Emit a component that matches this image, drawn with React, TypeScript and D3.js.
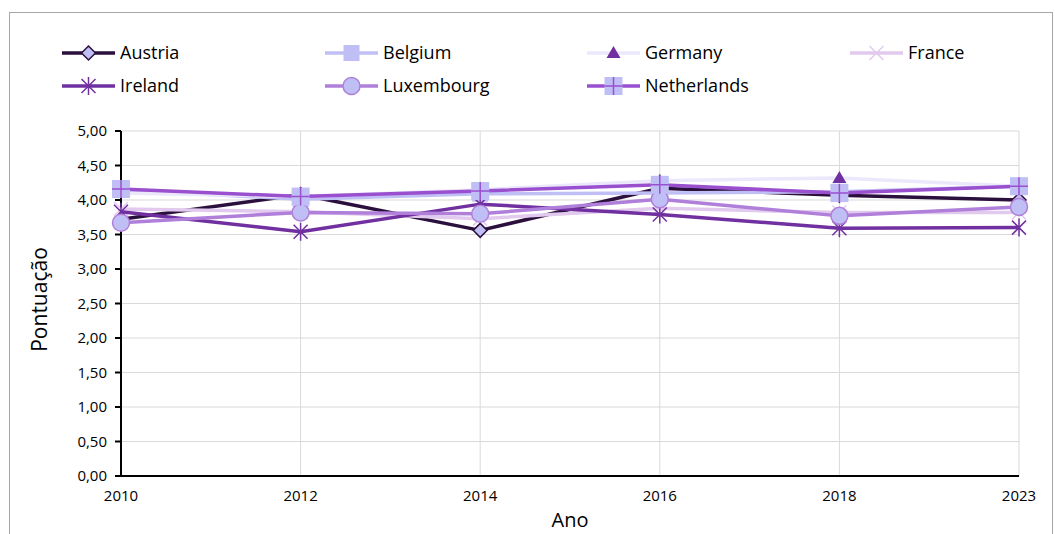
import React from "react";
import * as d3 from "d3";

const years = ["2010", "2012", "2014", "2016", "2018", "2023"];
const austria = [3.72, 4.08, 3.56, 4.17, 4.07, 4.0];
const belgium = [4.15, 4.01, 4.09, 4.1, 4.12, 4.2];
const germany = [4.1, 4.05, 4.15, 4.28, 4.32, 4.2];
const france = [3.87, 3.83, 3.73, 3.88, 3.82, 3.82];
const ireland = [3.83, 3.54, 3.94, 3.79, 3.59, 3.6];
const luxembourg = [3.67, 3.82, 3.8, 4.01, 3.77, 3.9];
const netherlands = [4.16, 4.05, 4.13, 4.22, 4.1, 4.2];
const yTicks = [0, 0.5, 1, 1.5, 2, 2.5, 3, 3.5, 4, 4.5, 5];

type Marker = "diamond" | "square" | "triangle" | "x" | "asterisk" | "circle" | "plusSquare";

const series: { name: string; values: number[]; line: string; marker: Marker; fill: string; stroke: string }[] = [
  { name: "Austria", values: austria, line: "#2b0f3c", marker: "diamond", fill: "#c0bff5", stroke: "#2b0f3c" },
  { name: "Belgium", values: belgium, line: "#c0bff5", marker: "square", fill: "#c0bff5", stroke: "#c0bff5" },
  { name: "Germany", values: germany, line: "#ebe8fb", marker: "triangle", fill: "#7030a0", stroke: "#7030a0" },
  { name: "France", values: france, line: "#e2caee", marker: "x", fill: "none", stroke: "#e2caee" },
  { name: "Ireland", values: ireland, line: "#7030a0", marker: "asterisk", fill: "none", stroke: "#7030a0" },
  { name: "Luxembourg", values: luxembourg, line: "#b07fda", marker: "circle", fill: "#c0bff5", stroke: "#b07fda" },
  { name: "Netherlands", values: netherlands, line: "#9a4fcf", marker: "plusSquare", fill: "#c0bff5", stroke: "#9a4fcf" },
];

const FONT = "'Open Sans', sans-serif";

function MarkerShape({ kind, x, y, fill, stroke }: { kind: Marker; x: number; y: number; fill: string; stroke: string }) {
  switch (kind) {
    case "diamond":
      return <path d={`M${x},${y - 7}L${x + 7},${y}L${x},${y + 7}L${x - 7},${y}Z`} fill={fill} stroke={stroke} strokeWidth={1.5} />;
    case "square":
      return <rect x={x - 8} y={y - 8} width={16} height={16} fill={fill} />;
    case "triangle":
      return <path d={`M${x},${y - 7}L${x + 7},${y + 5}L${x - 7},${y + 5}Z`} fill={fill} />;
    case "x":
      return <path d={`M${x - 7},${y - 7}L${x + 7},${y + 7}M${x - 7},${y + 7}L${x + 7},${y - 7}`} stroke={stroke} strokeWidth={1.5} />;
    case "asterisk":
      return (
        <path
          d={`M${x - 7},${y - 7}L${x + 7},${y + 7}M${x - 7},${y + 7}L${x + 7},${y - 7}M${x},${y - 9}L${x},${y + 9}`}
          stroke={stroke}
          strokeWidth={1.5}
        />
      );
    case "circle":
      return <circle cx={x} cy={y} r={8.5} fill={fill} stroke={stroke} strokeWidth={1.5} />;
    case "plusSquare":
      return (
        <g>
          <rect x={x - 9} y={y - 9} width={18} height={18} fill={fill} />
          <path d={`M${x - 9},${y}L${x + 9},${y}M${x},${y - 9}L${x},${y + 9}`} stroke={stroke} strokeWidth={1.5} />
        </g>
      );
  }
}

export default function App() {
  const width = 1055;
  const height = 534;
  const left = 121;
  const right = 1019;
  const top = 131;
  const bottom = 476;

  const x = d3.scalePoint<string>().domain(years).range([left, right]);
  const y = d3.scaleLinear().domain([0, 5]).range([bottom, top]);
  const line = d3
    .line<number>()
    .x((_, i) => x(years[i]) as number)
    .y((d) => y(d));
  const fmt = (v: number) => d3.format(".2f")(v).replace(".", ",");

  const legendCols = [62, 325, 587, 850];
  const legendRows = [53, 86];

  return (
    <svg width={width} height={height} style={{ position: "absolute", left: 0, top: 0, background: "#fff" }}>
      <rect x={9.5} y={12.5} width={1043} height={540} fill="#fff" stroke="#a6a6a6" strokeWidth={1} />

      {/* gridlines */}
      {yTicks.map((t) => (
        <line key={"gy" + t} x1={left} x2={right} y1={y(t)} y2={y(t)} stroke="#d9d9d9" strokeWidth={1} />
      ))}
      {years.map((yr) => (
        <line key={"gx" + yr} x1={x(yr)} x2={x(yr)} y1={top} y2={bottom} stroke="#d9d9d9" strokeWidth={1} />
      ))}

      {/* axes */}
      <line x1={left} x2={left} y1={top} y2={bottom} stroke="#000" strokeWidth={2} />
      <line x1={left} x2={right} y1={bottom} y2={bottom} stroke="#000" strokeWidth={2} />
      {yTicks.map((t) => (
        <g key={"ty" + t}>
          <line x1={left - 6} x2={left} y1={y(t)} y2={y(t)} stroke="#000" strokeWidth={2} />
          <text x={left - 14} y={y(t)} dy="0.35em" textAnchor="end" fontFamily={FONT} fontSize={15} fill="#000">
            {fmt(t)}
          </text>
        </g>
      ))}
      {years.map((yr) => (
        <text key={"tx" + yr} x={x(yr)} y={bottom + 25} textAnchor="middle" fontFamily={FONT} fontSize={15} fill="#000">
          {yr}
        </text>
      ))}
      <text x={570} y={527} textAnchor="middle" fontFamily={FONT} fontSize={20} fill="#000">
        Ano
      </text>
      <text
        transform={`translate(47,${(top + bottom) / 2 - 4}) rotate(-90)`}
        textAnchor="middle"
        fontFamily={FONT}
        fontSize={21}
        fill="#000"
      >
        Pontuação
      </text>

      {/* series */}
      {series.map((s) => (
        <g key={s.name}>
          <path d={line(s.values) || ""} fill="none" stroke={s.line} strokeWidth={3.5} strokeLinejoin="round" />
          {s.values.map((v, i) => (
            <MarkerShape key={i} kind={s.marker} x={x(years[i]) as number} y={y(v)} fill={s.fill} stroke={s.stroke} />
          ))}
        </g>
      ))}

      {/* legend */}
      {series.map((s, i) => {
        const lx = legendCols[i % 4];
        const ly = legendRows[Math.floor(i / 4)];
        return (
          <g key={"lg" + s.name}>
            <line x1={lx} x2={lx + 53} y1={ly} y2={ly} stroke={s.line} strokeWidth={3.5} />
            <MarkerShape kind={s.marker} x={lx + 26.5} y={ly} fill={s.fill} stroke={s.stroke} />
            <text x={lx + 58} y={ly} dy="0.35em" fontFamily={FONT} fontSize={18} fill="#000">
              {s.name}
            </text>
          </g>
        );
      })}
    </svg>
  );
}
